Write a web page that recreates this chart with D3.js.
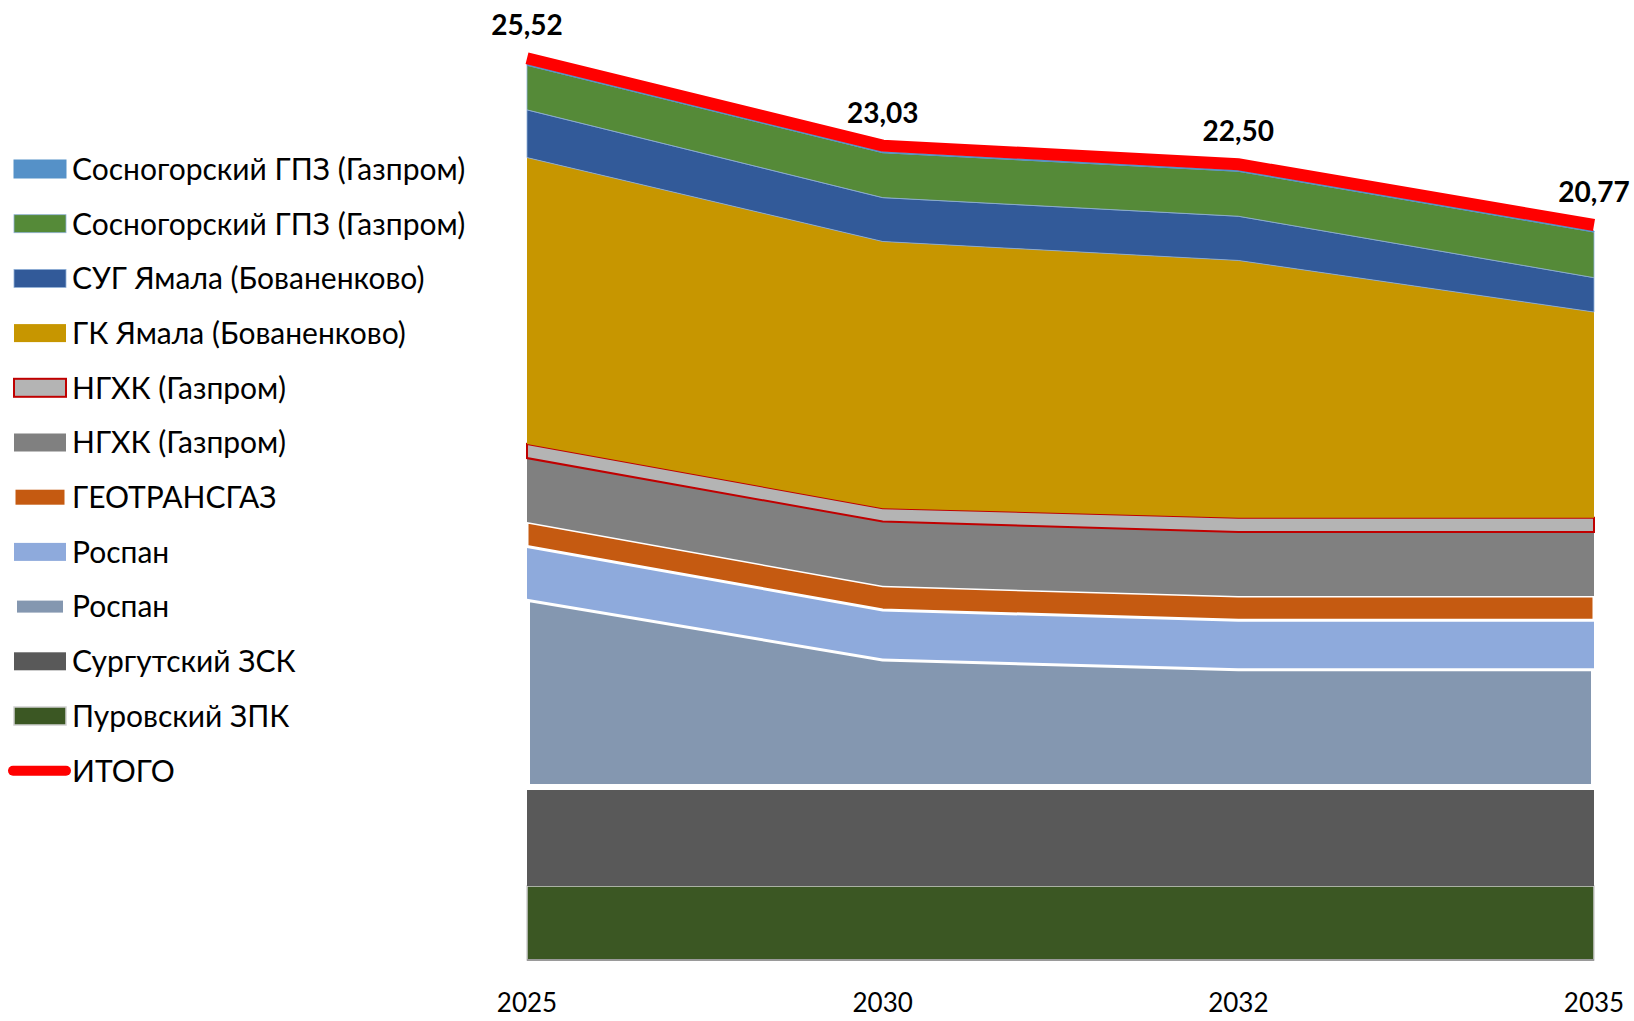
<!DOCTYPE html>
<html>
<head>
<meta charset="utf-8">
<script src="https://cdn.jsdelivr.net/npm/d3@7"></script>
<style>
    body { margin: 0; background: #fff; }
    svg text { font-family: Lato, "Open Sans", sans-serif; }
</style>
</head>
<body>
<svg id="chart" width="1634" height="1021"></svg>
<script>
// years on the category axis
var years = ['2025', '2030', '2032', '2035'];

// series values, bottom of the stack first
var purovsky = [2.11, 2.11, 2.11, 2.11];
var surgut = [2.82, 2.82, 2.82, 2.82];
var rospanGray = [5.36, 3.66, 3.38, 3.38];
var rospanLight = [1.49, 1.38, 1.37, 1.37];
var geotransgaz = [0.70, 0.69, 0.69, 0.69];
var ngkhkGray = [1.82, 1.83, 1.82, 1.82];
var ngkhkLight = [0.40, 0.38, 0.41, 0.41];
var gkYamal = [8.16, 7.60, 7.33, 5.86];
var sugYamal = [1.36, 1.25, 1.26, 0.98];
var sosnGreen = [1.27, 1.28, 1.28, 1.30];
var sosnBlue = [0.03, 0.03, 0.03, 0.03];

// total line
var totals = [25.52, 23.03, 22.50, 20.77];

var series = [
    {key: 'purovsky', name: 'Пуровский ЗПК', values: purovsky, fill: '#3b5723', stroke: '#d0d0d0', sw: 1.5},
    {key: 'surgut', name: 'Сургутский ЗСК', values: surgut, fill: '#595959', stroke: 'none', sw: 0},
    {key: 'rospanGray', name: 'Роспан', values: rospanGray, fill: '#8497b0', stroke: '#ffffff', sw: 6},
    {key: 'rospanLight', name: 'Роспан', values: rospanLight, fill: '#8eaadc', stroke: 'none', sw: 0},
    {key: 'geotransgaz', name: 'ГЕОТРАНСГАЗ', values: geotransgaz, fill: '#c55a11', stroke: '#ffffff', sw: 3},
    {key: 'ngkhkGray', name: 'НГХК (Газпром)', values: ngkhkGray, fill: '#808080', stroke: 'none', sw: 0},
    {key: 'ngkhkLight', name: 'НГХК (Газпром)', values: ngkhkLight, fill: '#b4b4b4', stroke: '#c00000', sw: 2},
    {key: 'gkYamal', name: 'ГК Ямала (Бованенково)', values: gkYamal, fill: '#c79600', stroke: 'none', sw: 0},
    {key: 'sugYamal', name: 'СУГ Ямала (Бованенково)', values: sugYamal, fill: '#325a99', stroke: '#8fb0d8', sw: 0.8},
    {key: 'sosnGreen', name: 'Сосногорский ГПЗ (Газпром)', values: sosnGreen, fill: '#558a38', stroke: '#8fb0d8', sw: 0.8},
    {key: 'sosnBlue', name: 'Сосногорский ГПЗ (Газпром)', values: sosnBlue, fill: '#5591c8', stroke: '#5591c8', sw: 1}
];

// table for d3.stack
var table = years.map(function (year, i) {
    var row = {year: year};
    series.forEach(function (s) { row[s.key] = s.values[i]; });
    return row;
});

var svg = d3.select('#chart');

var x = d3.scalePoint()
    .domain(years)
    .range([527, 1594]);

var y = d3.scaleLinear()
    .domain([0, 27.35])
    .range([960, 0]);

var stack = d3.stack().keys(series.map(function (s) { return s.key; }));
var stacked = stack(table);

var area = d3.area()
    .x(function (d) { return x(d.data.year); })
    .y0(function (d) { return y(d[0]); })
    .y1(function (d) { return y(d[1]); });

// stacked areas
svg.append('g').selectAll('path')
    .data(stacked)
    .enter()
    .append('path')
    .attr('d', area)
    .attr('fill', function (d, i) { return series[i].fill; })
    .attr('stroke', function (d, i) { return series[i].stroke; })
    .attr('stroke-width', function (d, i) { return series[i].sw; })
    .attr('stroke-linejoin', 'miter');

// category axis line
svg.append('line')
    .attr('x1', x.range()[0])
    .attr('x2', x.range()[1])
    .attr('y1', y(0))
    .attr('y2', y(0))
    .attr('stroke', '#9a9a9a')
    .attr('stroke-width', 2);

// total line, sitting on top of the stack
var line = d3.line()
    .x(function (d, i) { return x(years[i]); })
    .y(function (d) { return y(d); });

svg.append('path')
    .datum(totals)
    .attr('d', line)
    .attr('transform', 'translate(0,-6)')
    .attr('fill', 'none')
    .attr('stroke', '#ff0000')
    .attr('stroke-width', 12)
    .attr('stroke-linejoin', 'miter');

// total labels
var fmt = function (v) { return d3.format('.2f')(v).replace('.', ','); };
svg.append('g').selectAll('text')
    .data(totals)
    .enter()
    .append('text')
    .attr('x', function (d, i) { return x(years[i]); })
    .attr('y', function (d) { return y(d) - 29; })
    .attr('text-anchor', 'middle')
    .attr('font-size', 28)
    .attr('font-weight', 'bold')
    .attr('fill', '#000')
    .text(fmt);

// year labels
svg.append('g').selectAll('text')
    .data(years)
    .enter()
    .append('text')
    .attr('x', function (d) { return x(d); })
    .attr('y', 1012)
    .attr('text-anchor', 'middle')
    .attr('font-size', 26)
    .attr('fill', '#000')
    .text(function (d) { return d; });

// legend
var legendItems = series.slice().reverse();
var rowY = function (i) { return 169 + i * 54.7; };
var legend = svg.append('g');

legendItems.forEach(function (s, i) {
    legend.append('rect')
        .attr('x', 14)
        .attr('y', rowY(i) - 9)
        .attr('width', 52)
        .attr('height', 18)
        .attr('fill', s.fill)
        .attr('stroke', s.stroke)
        .attr('stroke-width', s.sw);
    legend.append('text')
        .attr('x', 72)
        .attr('y', rowY(i))
        .attr('dy', '0.36em')
        .attr('font-size', 30)
        .attr('fill', '#000')
        .text(s.name);
});

var totalRow = rowY(legendItems.length);
legend.append('line')
    .attr('x1', 13)
    .attr('x2', 66)
    .attr('y1', totalRow)
    .attr('y2', totalRow)
    .attr('stroke', '#ff0000')
    .attr('stroke-width', 10)
    .attr('stroke-linecap', 'round');
legend.append('text')
    .attr('x', 72)
    .attr('y', totalRow)
    .attr('dy', '0.36em')
    .attr('font-size', 30)
    .attr('fill', '#000')
    .text('ИТОГО');
</script>
</body>
</html>
